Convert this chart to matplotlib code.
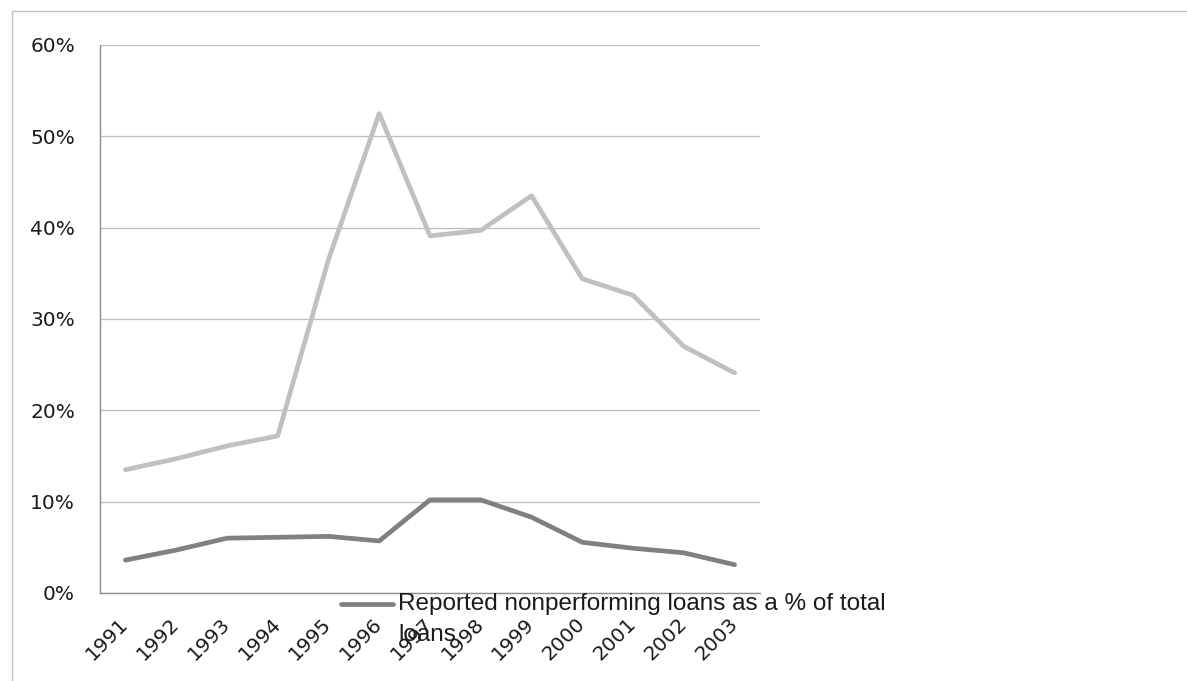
import matplotlib
matplotlib.use("Agg")
import matplotlib.pyplot as plt
from matplotlib.lines import Line2D
from matplotlib.patches import Rectangle
from matplotlib.ticker import FuncFormatter

years = ["1991", "1992", "1993", "1994", "1995", "1996", "1997",
         "1998", "1999", "2000", "2001", "2002", "2003"]
upper_series = [13.5, 14.7, 16.1, 17.2, 36.5, 52.5, 39.1,
                39.7, 43.5, 34.4, 32.6, 27.0, 24.1]
reported_npl = [3.6, 4.7, 6.0, 6.1, 6.2, 5.7, 10.2,
                10.2, 8.3, 5.55, 4.9, 4.4, 3.1]
legend_label = "Reported nonperforming loans as a % of total\nloans"

W, H = 1187, 681
fig = plt.figure(figsize=(W / 100, H / 100), dpi=100)

# chart frame (only top and left edges visible)
fig.add_artist(Rectangle((12 / W, -0.1), 1.2, 1 - 11 / H + 0.1,
                         transform=fig.transFigure, fill=False,
                         edgecolor="#c4c4c4", linewidth=1.0))

ax = fig.add_axes([100 / W, 1 - 593 / H, 660 / W, 548 / H])

x = list(range(len(years)))
ax.plot(x, upper_series, color="#c0c0c0", linewidth=3.4,
        solid_capstyle="round", solid_joinstyle="round")
ax.plot(x, reported_npl, color="#808080", linewidth=3.4,
        solid_capstyle="round", solid_joinstyle="round")

ax.set_xlim(-0.5, len(years) - 0.5)
ax.set_ylim(0, 60)
ax.set_yticks(range(0, 61, 10))
ax.yaxis.set_major_formatter(FuncFormatter(lambda v, p: f"{v:.0f}%"))
ax.grid(axis="y", color="#bdbdbd", linewidth=0.9)
ax.set_axisbelow(True)

for s in ["top", "right"]:
    ax.spines[s].set_visible(False)
for s in ["left", "bottom"]:
    ax.spines[s].set_color("#8c8c8c")
    ax.spines[s].set_linewidth(1.0)

ax.tick_params(axis="y", length=0, pad=18, labelsize=14.5, labelcolor="#1a1a1a")
ax.tick_params(axis="x", length=0, pad=20, labelsize=14.5, labelcolor="#1a1a1a")
ax.set_xticks(x)
ax.set_xticklabels(years, rotation=45, ha="right", va="center",
                   rotation_mode="anchor")

# legend entry for the reported series
fig.add_artist(Line2D([341 / W, 393 / W], [1 - 604 / H, 1 - 604 / H],
                      transform=fig.transFigure, color="#808080",
                      linewidth=3.4, solid_capstyle="round"))
fig.text(398 / W, 1 - 593 / H, legend_label, ha="left", va="top",
         fontsize=17.5, family=["Liberation Sans"],
         color="#1a1a1a", linespacing=1.55)

fig.savefig("out.png", dpi=100)
